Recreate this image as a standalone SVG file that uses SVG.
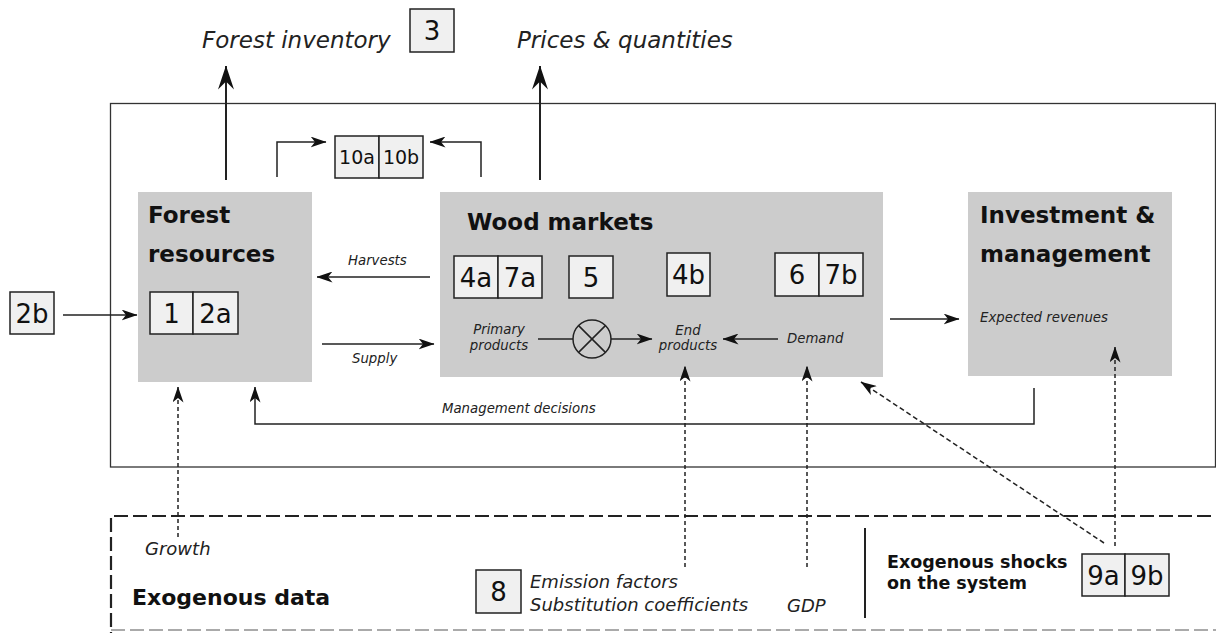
<svg xmlns="http://www.w3.org/2000/svg" width="1216" height="633" viewBox="0 0 1216 633">
  <defs>
    <marker id="arr" viewBox="0 0 16 11" refX="15.5" refY="5.5" markerWidth="16" markerHeight="11" markerUnits="userSpaceOnUse" orient="auto">
      <path d="M16,5.5 L0,0 L4.5,5.5 L0,11 Z" fill="#111"/>
    </marker>
    <marker id="arrBig" viewBox="0 0 24 16" refX="23.5" refY="8" markerWidth="24" markerHeight="16" markerUnits="userSpaceOnUse" orient="auto">
      <path d="M24,8 L0,0 L8,8 L0,16 Z" fill="#111"/>
    </marker>
  </defs>
  <style>
    .title { font-family: "DejaVu Sans", Verdana, sans-serif; font-weight: bold; font-size: 23px; fill: #111; }
    .sub { font-family: "DejaVu Sans", Verdana, sans-serif; font-weight: bold; font-size: 17.5px; fill: #111; }
    .lab { font-family: "DejaVu Sans", Verdana, sans-serif; font-style: italic; font-size: 13.3px; fill: #222; }
    .labL { font-family: "DejaVu Sans", Verdana, sans-serif; font-style: italic; font-size: 18px; fill: #222; }
    .labXL { font-family: "DejaVu Sans", Verdana, sans-serif; font-style: italic; font-size: 23px; fill: #222; }
    .num { font-family: "DejaVu Sans", Verdana, sans-serif; font-size: 26px; fill: #111; text-anchor: middle; }
    .numS { font-family: "DejaVu Sans", Verdana, sans-serif; font-size: 19px; fill: #111; text-anchor: middle; }
    .block { fill: #cccccc; }
    .cell { fill: #f0f0f0; stroke: #222; stroke-width: 1.5; }
    .line { fill: none; stroke: #222; stroke-width: 1.5; }
    .thick { fill: none; stroke: #222; stroke-width: 2; }
    .dotted { fill: none; stroke: #222; stroke-width: 1.5; stroke-dasharray: 4 3; }
    .dashed { fill: none; stroke: #222; stroke-width: 1.5; stroke-dasharray: 5 3; }
  </style>

  <!-- model frame and exogenous data frame -->
  <g id="frames">
    <rect x="110.5" y="103.5" width="1105" height="363.5" fill="none" stroke="#333" stroke-width="1.3"/>
    <path d="M1230 516 H111 V640" fill="none" stroke="#222" stroke-width="2.2" stroke-dasharray="14 5"/>
    <path d="M111 630 H1230" fill="none" stroke="#aaa" stroke-width="2" stroke-dasharray="14 5"/>
    <path d="M865 528 V618" fill="none" stroke="#222" stroke-width="2"/>
  </g>

  <!-- outputs -->
  <g id="out-inventory">
    <text class="labXL" x="202" y="48">Forest inventory</text>
    <rect class="cell" x="410" y="9" width="44" height="43"/>
    <text class="num" x="432" y="40">3</text>
  </g>
  <g id="out-prices">
    <text class="labXL" x="517" y="48">Prices &amp; quantities</text>
  </g>

  <g id="carbon">
    <rect class="cell" x="335" y="136" width="44" height="42"/>
    <rect class="cell" x="379" y="136" width="44" height="42"/>
    <text class="numS" x="357" y="164">10a</text>
    <text class="numS" x="401" y="164">10b</text>
  </g>

  <g id="forest-resources">
    <rect class="block" x="138" y="192" width="174" height="190"/>
    <text class="title" x="148" y="223">Forest</text>
    <text class="title" x="148" y="262">resources</text>
    <rect class="cell" x="150" y="292" width="43" height="42"/>
    <rect class="cell" x="193" y="292" width="45" height="42"/>
    <text class="num" x="171.5" y="323">1</text>
    <text class="num" x="215.5" y="323">2a</text>
  </g>

  <g id="ext-2b">
    <rect class="cell" x="10" y="292" width="44" height="42"/>
    <text class="num" x="32" y="323">2b</text>
  </g>

  <g id="wood-markets">
    <rect class="block" x="440" y="192" width="443" height="185"/>
    <text class="title" x="467" y="230">Wood markets</text>
    <rect class="cell" x="454" y="256" width="44" height="42"/>
    <rect class="cell" x="498" y="256" width="44" height="42"/>
    <text class="num" x="476" y="287">4a</text>
    <text class="num" x="520" y="287">7a</text>
    <rect class="cell" x="569" y="256" width="44" height="42"/>
    <text class="num" x="591" y="287">5</text>
    <rect class="cell" x="667" y="253" width="43" height="43"/>
    <text class="num" x="688.5" y="284">4b</text>
    <rect class="cell" x="775" y="253" width="44" height="43"/>
    <rect class="cell" x="819" y="253" width="44" height="43"/>
    <text class="num" x="797" y="284">6</text>
    <text class="num" x="841" y="284">7b</text>
    <text class="lab" x="499" y="334" text-anchor="middle">Primary</text>
    <text class="lab" x="499" y="350" text-anchor="middle">products</text>
    <circle cx="592" cy="339" r="19" fill="none" stroke="#222" stroke-width="1.5"/>
    <path d="M578.6 325.6 L605.4 352.4 M605.4 325.6 L578.6 352.4" class="line"/>
    <text class="lab" x="688" y="335" text-anchor="middle">End</text>
    <text class="lab" x="688" y="350" text-anchor="middle">products</text>
    <text class="lab" x="787" y="343">Demand</text>
  </g>

  <g id="investment-management">
    <rect class="block" x="968" y="192" width="204" height="184"/>
    <text class="title" x="980" y="223">Investment &amp;</text>
    <text class="title" x="980" y="262">management</text>
    <text class="lab" x="980" y="322">Expected revenues</text>
  </g>

  <g id="exogenous-data">
    <text class="labL" x="145" y="555">Growth</text>
    <text class="title" x="132" y="605" style="font-size:22px">Exogenous data</text>
    <rect class="cell" x="476" y="570" width="45" height="43"/>
    <text class="num" x="498.5" y="601">8</text>
    <text class="labL" x="530" y="588">Emission factors</text>
    <text class="labL" x="530" y="611">Substitution coefficients</text>
    <text class="labL" x="787" y="612">GDP</text>
  </g>

  <g id="exogenous-shocks">
    <text class="sub" x="887" y="568">Exogenous shocks</text>
    <text class="sub" x="887" y="589">on the system</text>
    <rect class="cell" x="1082" y="554" width="43" height="42"/>
    <rect class="cell" x="1125" y="554" width="44" height="42"/>
    <text class="num" x="1103.5" y="585">9a</text>
    <text class="num" x="1147" y="585">9b</text>
  </g>

  <!-- connectors -->
  <g id="connectors">
    <path class="thick" d="M226 180 V66" marker-end="url(#arrBig)"/>
    <path class="thick" d="M540 180 V66" marker-end="url(#arrBig)"/>
    <path class="line" d="M277 177 V142 H326" marker-end="url(#arr)"/>
    <path class="line" d="M481 177 V142 H430" marker-end="url(#arr)"/>
    <path class="line" d="M63 315 H137" marker-end="url(#arr)"/>
    <path class="line" d="M430 277 H317" marker-end="url(#arr)"/>
    <text class="lab" x="348" y="265">Harvests</text>
    <path class="line" d="M322 344 H434" marker-end="url(#arr)"/>
    <text class="lab" x="352" y="363">Supply</text>
    <path class="line" d="M538 339 H573"/>
    <path class="line" d="M611 339 H652" marker-end="url(#arr)"/>
    <path class="line" d="M778 339 H723" marker-end="url(#arr)"/>
    <path class="line" d="M890 319 H959" marker-end="url(#arr)"/>
    <path class="line" d="M1034 388 V424 H255 V387" marker-end="url(#arr)"/>
    <text class="lab" x="442" y="413">Management decisions</text>
    <path class="dotted" d="M178 537 V387" marker-end="url(#arr)"/>
    <path class="dotted" d="M685 567 V366" marker-end="url(#arr)"/>
    <path class="dotted" d="M807 567 V366" marker-end="url(#arr)"/>
    <path class="dotted" d="M1115 546 V347" marker-end="url(#arr)"/>
    <path class="dashed" d="M1104 543 L861 382" marker-end="url(#arr)"/>
  </g>
</svg>
